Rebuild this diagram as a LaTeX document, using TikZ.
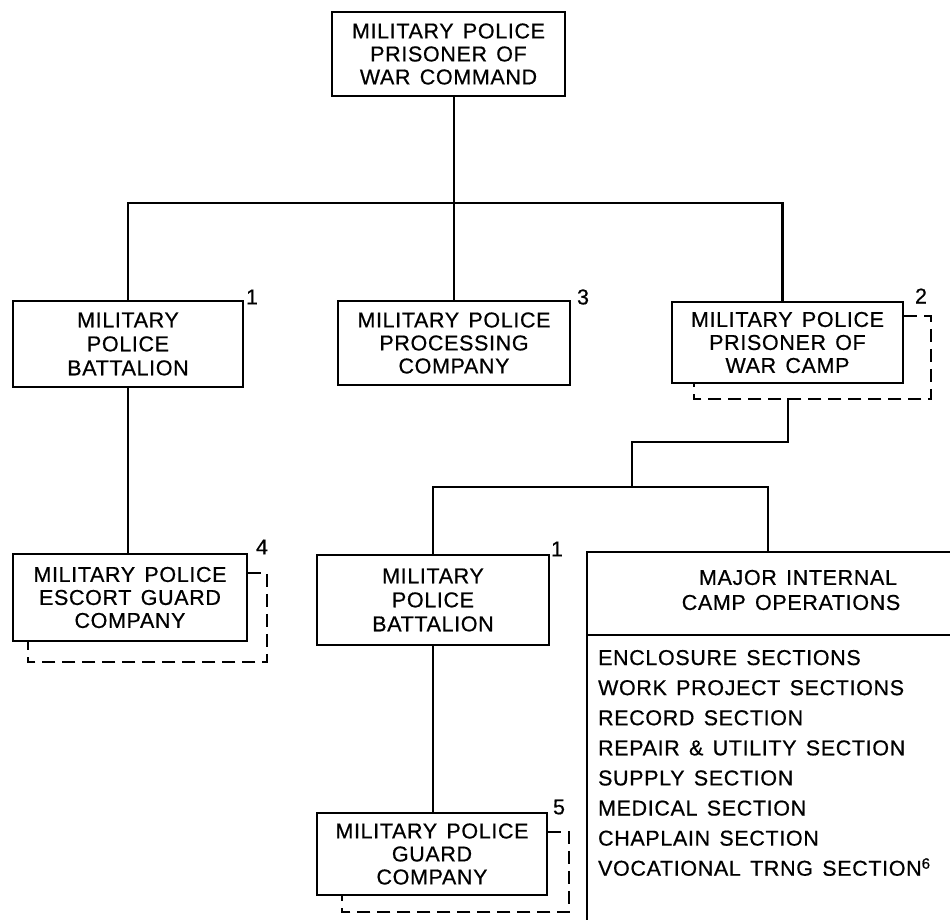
\documentclass[tikz,border=0pt]{standalone}
\usepackage{fontspec}
\setmainfont{Liberation Sans}[LetterSpace=3,WordSpace=1.4,FakeBold=0.6]
\usetikzlibrary{calc}
\newcommand\drawshadow[5]{%
  \draw[shadowline] ([yshift=-#2]#1.north east) -- ([xshift=#3,yshift=-#2]#1.north east)
    -- ([xshift=#3,yshift=-#4]#1.south east) -- ([xshift=#5,yshift=-#4]#1.south west)
    -- ([xshift=#5]#1.south west);}
\begin{document}
\begin{tikzpicture}[x=1pt,y=-1pt,line width=2.2pt,
  txt/.style={font=\fontsize{21.5}{23}\selectfont},
  box/.style={txt,draw,line width=2.2pt,align=center,inner sep=0pt},
  num/.style={txt,inner sep=0pt},
  item/.style={txt,anchor=base west,inner sep=0pt},
  shadowline/.style={dash pattern=on 13pt off 7pt,line width=2.2pt}]
\useasboundingbox (0,0) rectangle (950,919);

% boxes
\node[box,minimum width=233pt,minimum height=84pt] (top) at (448.5,54) {MILITARY POLICE\\PRISONER OF\\WAR COMMAND};
\node[box,minimum width=230pt,minimum height=86pt,font=\fontsize{21.5}{24}\selectfont] (bn1) at (128,344) {MILITARY\\POLICE\\BATTALION};
\node[box,minimum width=232pt,minimum height=84pt] (proc) at (454,343) {MILITARY POLICE\\PROCESSING\\COMPANY};
\node[box,minimum width=231pt,minimum height=81pt] (camp) at (787.5,342.5) {MILITARY POLICE\\PRISONER OF\\WAR CAMP};
\node[box,minimum width=234pt,minimum height=87pt] (escort) at (130,597.5) {MILITARY POLICE\\ESCORT GUARD\\COMPANY};
\node[box,minimum width=232pt,minimum height=90pt,font=\fontsize{21.5}{24}\selectfont] (bn2) at (433,600) {MILITARY\\POLICE\\BATTALION};
\node[box,minimum width=230pt,minimum height=82pt] (guard) at (432,854) {MILITARY POLICE\\GUARD\\COMPANY};

% footnote numbers
\node[num] (n1) at (252,297) {1};
\node[num] (n3) at (583,297) {3};
\node[num] (n2) at (921,296) {2};
\node[num] (n4) at (262,547) {4};
\node[num] (n1b) at (557,549) {1};
\node[num] (n5) at (559,807) {5};

% dashed shadows
\drawshadow{camp}{15pt}{27pt}{15pt}{23pt}
\drawshadow{escort}{20pt}{19pt}{20pt}{16pt}
\drawshadow{guard}{20pt}{21pt}{16pt}{26pt}

% connectors, level 1
\coordinate (j1) at (454,203);
\draw (top.south -| j1) -- (j1);
\draw (bn1.north) |- (j1) -| ([xshift=-5pt]camp.north);
\draw (j1) -- (proc.north);
\draw (bn1.south) -- (bn1.south |- escort.north);

% connectors below camp
\coordinate (s1) at (788,398);
\coordinate (k) at (632,442);
\coordinate (j2) at (632,487);
\coordinate (majtop) at (768,552);
\draw (s1) |- (k) -- (j2);
\draw (bn2.north) |- (j2) -| (majtop);
\draw (bn2.south) -- (bn2.south |- guard.north);

% major internal camp operations panel
\coordinate (majtl) at (587,552);
\coordinate (majtr) at (952,552);
\coordinate (majbl) at (587,921);
\coordinate (divl) at (587,635);
\coordinate (divr) at (952,635);
\draw (majtr) -- (majtl) -- (majbl);
\draw (divl) -- (divr);
\node[txt,align=center,inner sep=0pt,font=\fontsize{21.5}{25}\selectfont] (majhead) at (791,590) {\hspace*{14pt}MAJOR INTERNAL\\CAMP OPERATIONS};

\foreach \t [count=\i] in {ENCLOSURE SECTIONS, WORK PROJECT SECTIONS, RECORD SECTION,
  REPAIR \& UTILITY SECTION, SUPPLY SECTION, MEDICAL SECTION, CHAPLAIN SECTION,
  {VOCATIONAL TRNG SECTION\raisebox{7pt}{\fontsize{15}{15}\selectfont 6}}}
  \node[item] (l\i) at (597,665+30.1*\i-30.1) {\t};
\end{tikzpicture}
\end{document}
